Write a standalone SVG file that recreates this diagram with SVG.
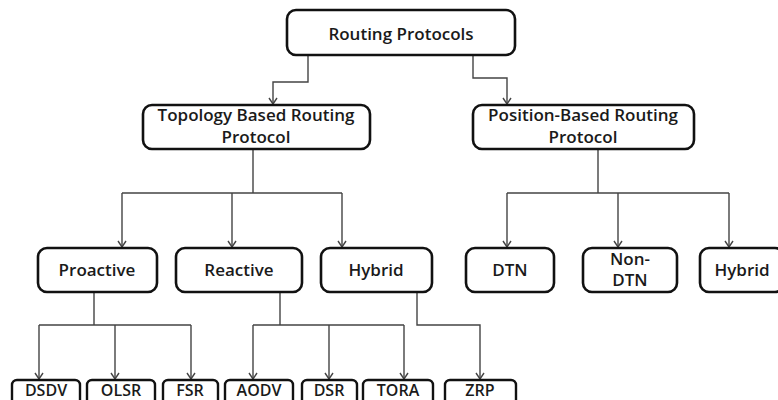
<svg xmlns="http://www.w3.org/2000/svg" width="778" height="400" viewBox="0 0 778 400">
<style>
.box{fill:#fff;stroke:#111;stroke-width:2.6}
.leaf{fill:#fff;stroke:#111;stroke-width:2.4}
.t{font-family:"Open Sans","Liberation Sans",sans-serif;font-weight:600;font-size:17px;fill:#1a1a1a;text-anchor:middle}
.lt{font-size:16px}
.c{fill:none;stroke:#444;stroke-width:1.4}
</style>
<defs>
<marker id="arr" markerWidth="10" markerHeight="10" refX="9" refY="5" orient="auto" markerUnits="userSpaceOnUse" viewBox="0 0 10 10">
<path d="M3,1 L9,5 L3,9" fill="none" stroke="#444" stroke-width="1.4"/>
</marker>
</defs>
<rect width="778" height="400" fill="#fff"/>
<g id="connectors">
<path class="c" d="M308,55 V82 H273 V104" marker-end="url(#arr)"/>
<path class="c" d="M473,55 V78 H507 V104" marker-end="url(#arr)"/>
<path class="c" d="M253,149 V193 M122,193 H342"/>
<path class="c" d="M122,193 V247" marker-end="url(#arr)"/>
<path class="c" d="M232,193 V247" marker-end="url(#arr)"/>
<path class="c" d="M342,193 V247" marker-end="url(#arr)"/>
<path class="c" d="M598,149 V193 M507,193 H729"/>
<path class="c" d="M507,193 V247" marker-end="url(#arr)"/>
<path class="c" d="M618,193 V247" marker-end="url(#arr)"/>
<path class="c" d="M729,193 V247" marker-end="url(#arr)"/>
<path class="c" d="M94,292 V325 M39,325 H191"/>
<path class="c" d="M39,325 V379" marker-end="url(#arr)"/>
<path class="c" d="M115,325 V379" marker-end="url(#arr)"/>
<path class="c" d="M191,325 V379" marker-end="url(#arr)"/>
<path class="c" d="M280,292 V325 M253,325 H404"/>
<path class="c" d="M253,325 V379" marker-end="url(#arr)"/>
<path class="c" d="M329,325 V379" marker-end="url(#arr)"/>
<path class="c" d="M404,325 V379" marker-end="url(#arr)"/>
<path class="c" d="M417,292 V325 H480 V379" marker-end="url(#arr)"/>
</g>
<g id="routing-protocols"><rect class="box" x="287" y="10" width="228" height="45" rx="9"/><text class="t" x="401" y="40">Routing Protocols</text></g>
<g id="topology"><rect class="box" x="143" y="105" width="227" height="44" rx="9"/><text class="t" x="256" y="121">Topology Based Routing</text><text class="t" x="256" y="143">Protocol</text></g>
<g id="position"><rect class="box" x="473" y="105" width="221" height="44" rx="9"/><text class="t" x="583" y="121">Position-Based Routing</text><text class="t" x="583" y="143">Protocol</text></g>
<g id="proactive"><rect class="box" x="38" y="248" width="119" height="44" rx="9"/><text class="t" x="97" y="276">Proactive</text></g>
<g id="reactive"><rect class="box" x="176" y="248" width="126" height="44" rx="9"/><text class="t" x="239" y="276">Reactive</text></g>
<g id="hybrid"><rect class="box" x="321" y="248" width="111" height="44" rx="9"/><text class="t" x="376" y="276">Hybrid</text></g>
<g id="dtn"><rect class="box" x="466" y="248" width="88" height="44" rx="9"/><text class="t" x="510" y="276">DTN</text></g>
<g id="non-dtn"><rect class="box" x="583" y="248" width="94" height="44" rx="9"/><text class="t" x="630" y="265">Non-</text><text class="t" x="630" y="286">DTN</text></g>
<g id="hybrid-pos"><rect class="box" x="700" y="248" width="84" height="44" rx="9"/><text class="t" x="742" y="276">Hybrid</text></g>
<g id="dsdv"><rect class="leaf" x="12" y="380" width="68" height="30" rx="5"/><text class="t lt" x="46" y="396">DSDV</text></g>
<g id="olsr"><rect class="leaf" x="87" y="380" width="68" height="30" rx="5"/><text class="t lt" x="121" y="396">OLSR</text></g>
<g id="fsr"><rect class="leaf" x="163" y="380" width="55" height="30" rx="5"/><text class="t lt" x="190" y="396">FSR</text></g>
<g id="aodv"><rect class="leaf" x="225" y="380" width="68" height="30" rx="5"/><text class="t lt" x="259" y="396">AODV</text></g>
<g id="dsr"><rect class="leaf" x="302" y="380" width="55" height="30" rx="5"/><text class="t lt" x="329" y="396">DSR</text></g>
<g id="tora"><rect class="leaf" x="363" y="380" width="70" height="30" rx="5"/><text class="t lt" x="398" y="396">TORA</text></g>
<g id="zrp"><rect class="leaf" x="445" y="380" width="71" height="30" rx="5"/><text class="t lt" x="480" y="396">ZRP</text></g>
</svg>
